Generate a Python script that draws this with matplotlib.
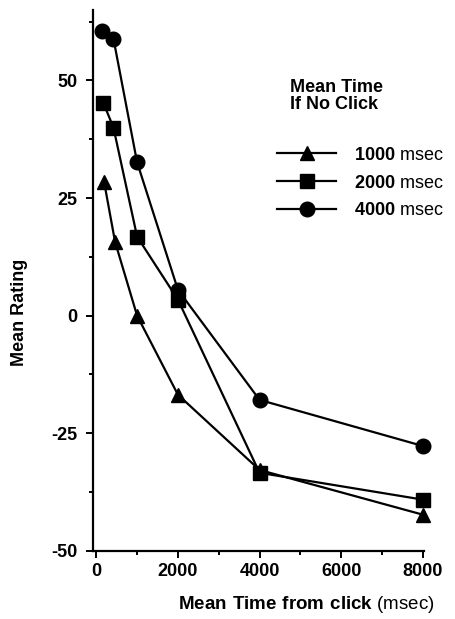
import matplotlib
matplotlib.use("Agg")
import matplotlib.pyplot as plt
from matplotlib.ticker import MultipleLocator

plt.rcParams['font.family'] = ['Liberation Sans', 'DejaVu Sans']
plt.rcParams['mathtext.fontset'] = 'custom'
plt.rcParams['mathtext.bf'] = 'Liberation Sans:bold'
plt.rcParams['mathtext.rm'] = 'Liberation Sans'
plt.rcParams['axes.unicode_minus'] = False

# mean time from click (msec)
x_1000 = [190, 460, 1000, 2000, 4000, 8000]
x_2000 = [170, 420, 1000, 2000, 4000, 8000]
x_4000 = [150, 420, 1000, 2000, 4000, 8000]

# mean rating per "mean time if no click" condition
y_1000 = [28.5, 15.7, 0.0, -16.8, -32.8, -42.3]
y_2000 = [45.3, 40.0, 16.8, 3.4, -33.4, -39.1]
y_4000 = [60.6, 58.9, 32.6, 5.5, -17.9, -27.7]

labels = [r"$\bf{1000}$ msec", r"$\bf{2000}$ msec", r"$\bf{4000}$ msec"]

fig = plt.figure(figsize=(4.56, 6.19), dpi=100)
ax = fig.add_axes([0.204, 0.110, 0.726, 0.874])

l1, = ax.plot(x_1000, y_1000, color='black', lw=1.6, marker='^', ms=10, clip_on=False)
l2, = ax.plot(x_2000, y_2000, color='black', lw=1.6, marker='s', ms=9.5, clip_on=False)
l3, = ax.plot(x_4000, y_4000, color='black', lw=1.6, marker='o', ms=10.5, clip_on=False)

ax.set_xlim(-80, 8030)
ax.set_ylim(-50, 65)
ax.set_xticks([0, 2000, 4000, 6000, 8000])
ax.set_yticks([-50, -25, 0, 25, 50])
ax.xaxis.set_minor_locator(MultipleLocator(1000))
ax.yaxis.set_minor_locator(MultipleLocator(12.5))
ax.tick_params(which='both', direction='out', width=1.4, labelsize=13)
ax.tick_params(axis='y', pad=6)
ax.tick_params(which='major', length=5)
ax.tick_params(which='minor', length=3)
for lab in ax.get_xticklabels() + ax.get_yticklabels():
    lab.set_fontweight('bold')

for s in ['top', 'right']:
    ax.spines[s].set_visible(False)
for s in ['left', 'bottom']:
    ax.spines[s].set_linewidth(1.6)

ax.set_ylabel('Mean Rating', fontsize=13, fontweight='bold')
ax.yaxis.set_label_coords(-0.195, 0.44)
ax.set_xlabel(r"$\bf{Mean\ Time\ from\ click}$ (msec)", fontsize=13.5)
ax.xaxis.set_label_coords(0.645, -0.08)

fig.text(0.636, 0.845, 'Mean Time\nIf No Click', fontsize=13, fontweight='bold',
         va='center', ha='left', linespacing=1.0)

leg = fig.legend([l1, l2, l3], labels, loc='upper left',
                 bbox_to_anchor=(0.607, 0.763), frameon=False, fontsize=13,
                 handlelength=3.3, handletextpad=1.0, labelspacing=0.6,
                 borderaxespad=0, borderpad=0)

fig.savefig('out.png', dpi=100)
